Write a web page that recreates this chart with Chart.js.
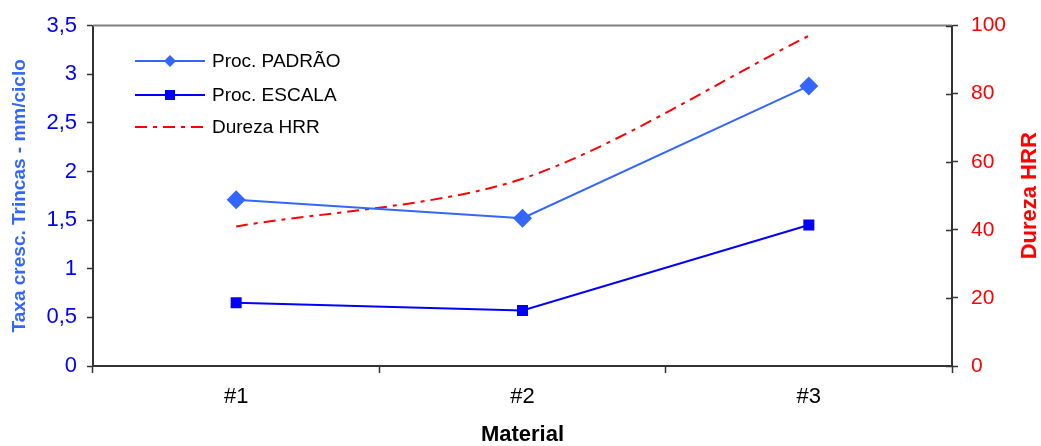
<!DOCTYPE html>
<html>
<head>
<meta charset="utf-8">
<script src="https://cdn.jsdelivr.net/npm/chart.js@4/dist/chart.umd.min.js"></script>
<style>
  html, body { margin: 0; padding: 0; background: #fff; }
  #wrap { width: 1041px; height: 446px; position: relative; }
</style>
</head>
<body>
<div id="wrap"><canvas id="c"></canvas></div>
<script>
// chart values
var categories = ["#1", "#2", "#3"];
var padrao = [1.71, 1.52, 2.88];
var escala = [0.65, 0.57, 1.45];
var dureza = [41, 55, 97];

var leftTicks = [0, 0.5, 1, 1.5, 2, 2.5, 3, 3.5];
var rightTicks = [0, 20, 40, 60, 80, 100];

var FONT = "'Liberation Sans', Arial, sans-serif";
var AXIS = "#333333";

function fmtComma(v) { return String(v).replace(".", ","); }

// legend inside the plot, top-left, plus the bits Chart.js doesn't do
var extras = {
  id: "extras",
  afterDraw: function (chart) {
    var ctx = chart.ctx, a = chart.chartArea;
    ctx.save();

    // grey top frame line
    ctx.strokeStyle = "#808080";
    ctx.lineWidth = 2;
    ctx.beginPath();
    ctx.moveTo(a.left, a.top);
    ctx.lineTo(a.right, a.top);
    ctx.stroke();

    // right axis ticks also cross into the plot
    var y1 = chart.scales.y1;
    ctx.strokeStyle = AXIS;
    ctx.lineWidth = 1.5;
    y1.ticks.forEach(function (t) {
      var py = Math.round(y1.getPixelForValue(t.value)) + 0.5;
      ctx.beginPath();
      ctx.moveTo(a.right - 6, py);
      ctx.lineTo(a.right, py);
      ctx.stroke();
    });

    // right axis title, reading bottom to top
    ctx.fillStyle = "#ff0000";
    ctx.font = "bold 22px " + FONT;
    ctx.textAlign = "center";
    ctx.textBaseline = "middle";
    ctx.translate(1030, (a.top + a.bottom) / 2);
    ctx.rotate(-Math.PI / 2);
    ctx.fillText("Dureza HRR", 0, 0);
    ctx.setTransform(1, 0, 0, 1, 0, 0);

    // legend
    var rows = [61, 95, 127];
    var x0 = 135, x1 = 205, tx = 212;
    chart.data.datasets.forEach(function (ds, i) {
      var y = rows[i];
      ctx.strokeStyle = ds.borderColor;
      ctx.lineWidth = 2;
      ctx.setLineDash(ds.borderDash || []);
      ctx.beginPath();
      ctx.moveTo(x0, y);
      ctx.lineTo(x1, y);
      ctx.stroke();
      ctx.setLineDash([]);
      var mx = (x0 + x1) / 2;
      ctx.fillStyle = ds.pointBackgroundColor;
      if (ds.pointStyle === "rectRot") {
        ctx.beginPath();
        ctx.moveTo(mx, y - 6);
        ctx.lineTo(mx + 6, y);
        ctx.lineTo(mx, y + 6);
        ctx.lineTo(mx - 6, y);
        ctx.closePath();
        ctx.fill();
      } else if (ds.pointStyle === "rect") {
        ctx.fillRect(mx - 5, y - 5, 10, 10);
      }
      ctx.fillStyle = "#000";
      ctx.font = "19px " + FONT;
      ctx.textAlign = "left";
      ctx.textBaseline = "middle";
      ctx.fillText(ds.label, tx, y + 1);
    });

    ctx.restore();
  }
};

new Chart(document.getElementById("c"), {
  type: "line",
  data: {
    labels: categories,
    datasets: [{
      label: "Proc. PADRÃO",
      data: padrao,
      yAxisID: "y",
      borderColor: "#3366ff",
      borderWidth: 2,
      pointStyle: "rectRot",
      pointRadius: 9.5,
      pointBackgroundColor: "#3366ff",
      pointBorderColor: "#3366ff",
      pointBorderWidth: 0,
      tension: 0
    }, {
      label: "Proc. ESCALA",
      data: escala,
      yAxisID: "y",
      borderColor: "#0000ff",
      borderWidth: 2,
      pointStyle: "rect",
      pointRadius: 7.8,
      pointBackgroundColor: "#0000ff",
      pointBorderColor: "#0000ff",
      pointBorderWidth: 0,
      tension: 0
    }, {
      label: "Dureza HRR",
      data: dureza,
      yAxisID: "y1",
      borderColor: "#ff0000",
      borderWidth: 2,
      borderDash: [12, 6, 4, 6],
      pointRadius: 0,
      pointStyle: false,
      pointBackgroundColor: "#ff0000",
      tension: 0.3
    }]
  },
  options: {
    responsive: true,
    maintainAspectRatio: false,
    animation: false,
    layout: { padding: { top: 25, left: 0, right: 0, bottom: 0 } },
    plugins: {
      legend: { display: false },
      tooltip: { enabled: false }
    },
    scales: {
      x: {
        offset: true,
        grid: { display: true, drawOnChartArea: false, offset: true, tickLength: 7, color: AXIS, tickWidth: 1.5 },
        border: { color: AXIS, width: 2 },
        ticks: { color: "#000", font: { family: FONT, size: 22 }, padding: 11 },
        title: { display: true, text: "Material", color: "#000", font: { family: FONT, size: 22, weight: "bold", lineHeight: 1 }, padding: { top: 0, bottom: 0 } },
        afterFit: function (s) { s.height = 80; }
      },
      y: {
        position: "left",
        min: 0, max: 3.5,
        afterBuildTicks: function (s) { s.ticks = leftTicks.map(function (v) { return { value: v }; }); },
        grid: { drawOnChartArea: false, tickLength: 6, color: AXIS, tickWidth: 1.5 },
        border: { color: AXIS, width: 2 },
        ticks: { color: "#0000ff", font: { family: FONT, size: 22 }, padding: 10, callback: function (v) { return fmtComma(v); } },
        title: { display: true, text: "Taxa cresc. Trincas - mm/ciclo", color: "#3366ff", font: { family: FONT, size: 19, weight: "bold", lineHeight: 1.2 }, padding: { top: 8, bottom: 0 } },
        afterFit: function (s) { s.width = 93; }
      },
      y1: {
        position: "right",
        min: 0, max: 100,
        afterBuildTicks: function (s) { s.ticks = rightTicks.map(function (v) { return { value: v }; }); },
        grid: { drawOnChartArea: false, tickLength: 6, color: AXIS, tickWidth: 1.5 },
        border: { color: AXIS, width: 2 },
        ticks: { color: "#ff0000", font: { family: FONT, size: 21 }, padding: 13 },
        afterFit: function (s) { s.width = 89; }
      }
    }
  },
  plugins: [extras]
});
</script>
</body>
</html>
